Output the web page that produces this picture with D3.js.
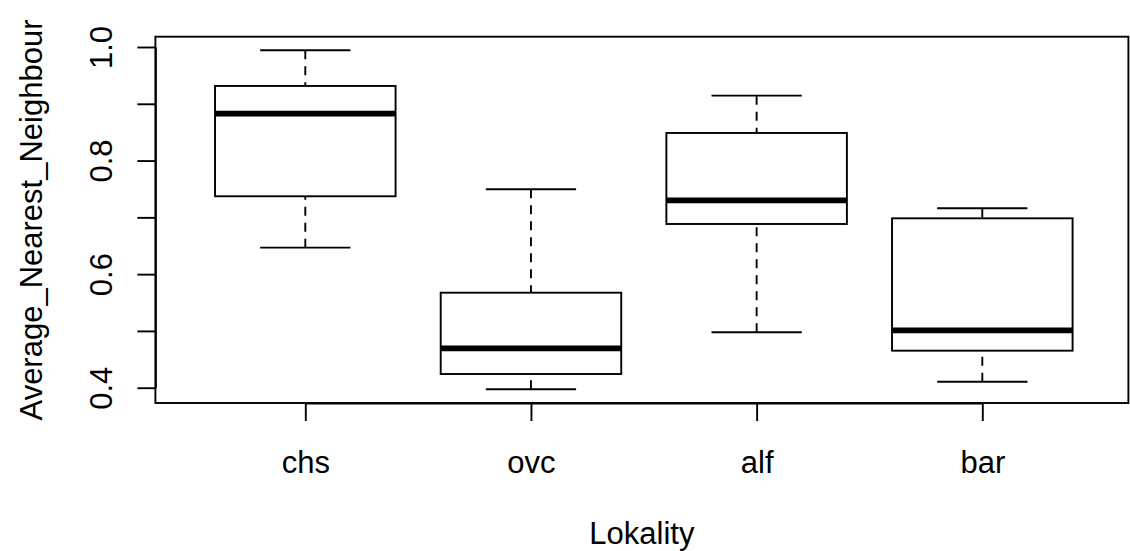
<!DOCTYPE html>
<html>
<head>
<meta charset="utf-8">
<script src="https://cdn.jsdelivr.net/npm/d3@7"></script>
<style>
  body { margin: 0; background: #fff; }
  svg { display: block; }
  text { font-family: "Liberation Sans", Arial, sans-serif; fill: #000; }
</style>
</head>
<body>
<div id="chart"></div>
<script>
// data
var categories = ["chs", "ovc", "alf", "bar"];
var lowerWhisker = [0.6466, 0.3972, 0.4976, 0.4106];
var lowerQuartile = [0.7371, 0.4241, 0.6883, 0.4652];
var medians = [0.8826, 0.4694, 0.7300, 0.5011];
var upperQuartile = [0.9314, 0.5673, 0.8486, 0.6983];
var upperWhisker = [0.9942, 0.7494, 0.9143, 0.7160];
var yTicks = [0.4, 0.5, 0.6, 0.7, 0.8, 0.9, 1.0];
var yTickLabels = ["0.4", "", "0.6", "", "0.8", "", "1.0"];

var svgWidth = 1130;
var svgHeight = 551;

// plot frame (R plot region)
var frame = { left: 155.4, right: 1128.4, top: 36.7, bottom: 403 };

var svg = d3.select("#chart")
  .append("svg")
  .attr("width", svgWidth)
  .attr("height", svgHeight);

var boxes = categories.map(function(c, i) {
  return {
    name: c,
    lo: lowerWhisker[i],
    q1: lowerQuartile[i],
    med: medians[i],
    q3: upperQuartile[i],
    hi: upperWhisker[i]
  };
});

// Scales
var xScale = d3.scalePoint()
  .domain(categories)
  .range([305.3, 982.3]);

var yScale = d3.scaleLinear()
  .domain([0.4, 1.0])
  .range([387.7, 47]);

var step = xScale.step();
var boxHalf = 0.4 * step;
var capHalf = 0.2 * step;
var lw = 1.9;

// Axes
var bottomAxis = d3.axisBottom(xScale)
  .tickSizeInner(18)
  .tickSizeOuter(0)
  .tickPadding(0);

var leftAxis = d3.axisLeft(yScale)
  .tickValues(yTicks)
  .tickFormat(function(d, i) { return yTickLabels[i]; })
  .tickSizeInner(18)
  .tickSizeOuter(0);

var xAxisG = svg.append("g")
  .attr("transform", `translate(0, ${frame.bottom})`)
  .call(bottomAxis);

xAxisG.selectAll("text")
  .attr("y", 69.7)
  .attr("dy", 0)
  .style("font-size", "31px")
  .style("font-family", "'Liberation Sans', Arial, sans-serif");

var yAxisG = svg.append("g")
  .attr("transform", `translate(${frame.left}, 0)`)
  .call(leftAxis);

yAxisG.selectAll("text")
  .attr("x", 0)
  .attr("dy", 0)
  .attr("transform", "translate(-43.7, 0) rotate(-90)")
  .style("text-anchor", "middle")
  .style("font-size", "31px")
  .style("font-family", "'Liberation Sans', Arial, sans-serif");

svg.selectAll(".domain, .tick line")
  .attr("stroke", "#000")
  .attr("stroke-width", lw);

// Frame
svg.append("rect")
  .attr("x", frame.left)
  .attr("y", frame.top)
  .attr("width", frame.right - frame.left)
  .attr("height", frame.bottom - frame.top)
  .attr("fill", "none")
  .attr("stroke", "#000")
  .attr("stroke-width", lw);

// Boxes
var boxGroup = svg.selectAll(".box")
  .data(boxes)
  .enter()
  .append("g")
  .attr("class", "box");

// whiskers, drawn from whisker end to box edge
boxGroup.append("line")
  .attr("x1", d => xScale(d.name))
  .attr("x2", d => xScale(d.name))
  .attr("y1", d => yScale(d.hi))
  .attr("y2", d => yScale(d.q3))
  .attr("stroke", "#000")
  .attr("stroke-width", lw)
  .attr("stroke-dasharray", "9,7");

boxGroup.append("line")
  .attr("x1", d => xScale(d.name))
  .attr("x2", d => xScale(d.name))
  .attr("y1", d => yScale(d.lo))
  .attr("y2", d => yScale(d.q1))
  .attr("stroke", "#000")
  .attr("stroke-width", lw)
  .attr("stroke-dasharray", "9,7");

// staples
["hi", "lo"].forEach(function(k) {
  boxGroup.append("line")
    .attr("x1", d => xScale(d.name) - capHalf)
    .attr("x2", d => xScale(d.name) + capHalf)
    .attr("y1", d => yScale(d[k]))
    .attr("y2", d => yScale(d[k]))
    .attr("stroke", "#000")
    .attr("stroke-width", lw);
});

boxGroup.append("rect")
  .attr("x", d => xScale(d.name) - boxHalf)
  .attr("y", d => yScale(d.q3))
  .attr("width", 2 * boxHalf)
  .attr("height", d => yScale(d.q1) - yScale(d.q3))
  .attr("fill", "#fff")
  .attr("stroke", "#000")
  .attr("stroke-width", lw);

boxGroup.append("line")
  .attr("x1", d => xScale(d.name) - boxHalf)
  .attr("x2", d => xScale(d.name) + boxHalf)
  .attr("y1", d => yScale(d.med))
  .attr("y2", d => yScale(d.med))
  .attr("stroke", "#000")
  .attr("stroke-width", 5.7);

// Axis titles
svg.append("text")
  .attr("transform", "translate(41.7, 220) rotate(-90)")
  .style("text-anchor", "middle")
  .style("font-size", "31px")
  .text("Average_Nearest_Neighbour");

svg.append("text")
  .attr("x", (frame.left + frame.right) / 2)
  .attr("y", 543.5)
  .style("text-anchor", "middle")
  .style("font-size", "31px")
  .text("Lokality");
</script>
</body>
</html>
